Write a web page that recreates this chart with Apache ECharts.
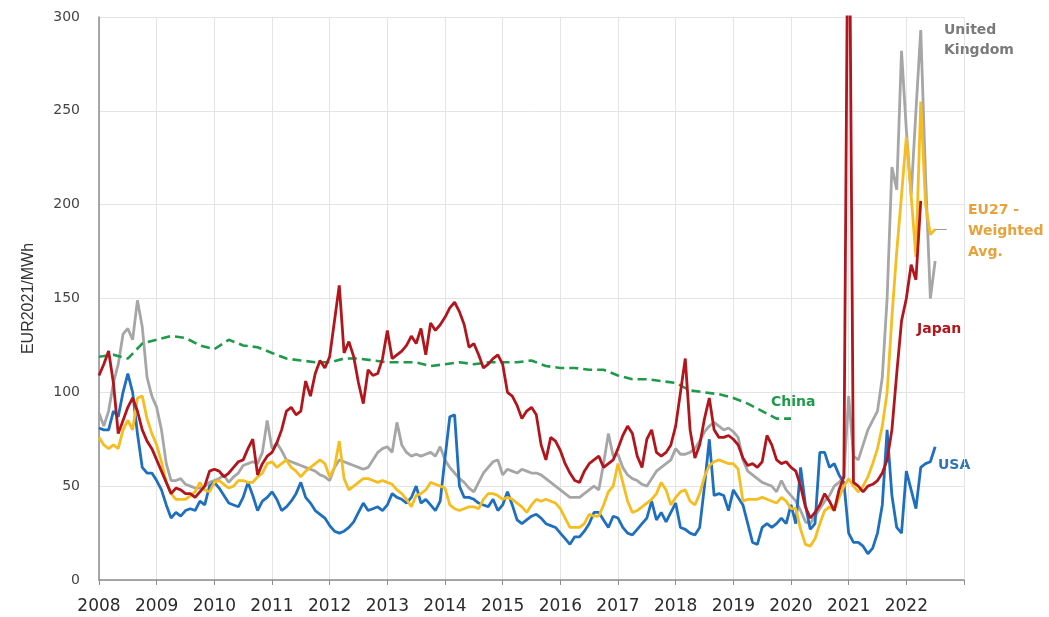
<!DOCTYPE html>
<html>
<head>
<meta charset="utf-8">
<title>Electricity prices EUR2021/MWh</title>
<script src="https://cdn.jsdelivr.net/npm/echarts@6/dist/echarts.min.js"></script>
<style>
  html, body { margin: 0; padding: 0; background: #fff; }
  #chart { width: 1049px; height: 617px; }
</style>
</head>
<body>
<div id="chart"></div>
<script>
// monthly values from Jan 2008, EUR2021/MWh
var startYear = 2008;

var japan = [
  109,115,122,105,78,85,92,97,90,80,74,70,
  64,58,52,46,49,48,46,46,44,47,50,58,
  59,58,55,57,60,63,64,70,75,56,62,66,
  68,73,80,90,92,88,90,106,98,110,117,113,
  119,138,157,121,127,119,105,94,112,109,110,118,
  133,118,120,122,125,130,126,134,120,137,133,136,
  140,145,148,143,136,124,126,120,113,115,118,120,
  115,100,98,93,86,90,92,88,72,64,76,74,
  69,62,57,53,52,58,62,64,66,60,62,64,
  70,77,82,78,66,60,75,80,68,66,68,72,
  82,100,118,80,65,72,86,97,80,76,76,77,
  75,72,65,61,62,60,63,77,72,64,62,63,
  60,58,50,39,33,36,40,46,42,37,48,55,
  420,52,50,47,50,51,53,57,64,80,110,138,
  150,168,160,202
];

var usa = [
  81,80,80,90,87,100,110,100,78,60,57,57,
  53,48,40,33,36,34,37,38,37,42,40,50,
  52,49,45,41,40,39,44,52,45,37,42,44,
  47,43,37,39,42,46,52,44,41,37,35,33,
  29,26,25,26,28,31,36,41,37,38,39,37,
  40,46,44,43,41,44,50,41,43,40,37,42,
  65,87,88,50,44,44,43,41,40,39,43,37,
  40,47,40,32,30,32,34,35,33,30,29,28,
  25,22,19,23,23,26,30,36,36,32,28,34,
  33,28,25,24,27,30,33,42,32,36,31,36,
  41,28,27,25,24,28,50,75,45,46,45,37,
  48,44,40,30,20,19,28,30,28,30,33,30,
  40,30,60,40,27,30,68,68,60,62,56,52,
  25,20,20,18,14,17,25,40,80,45,28,25,
  58,48,38,60,62,63,71
];

var uk = [
  89,82,90,105,115,131,134,128,149,135,108,98,
  92,80,62,53,53,54,51,50,49,49,50,52,
  53,54,56,52,55,57,61,62,63,62,68,85,
  70,73,69,64,63,62,61,60,59,58,56,55,
  53,60,64,63,62,61,60,59,60,64,68,70,
  71,68,84,72,68,66,67,66,67,68,66,71,
  64,60,57,54,52,49,47,52,57,60,63,64,
  56,59,58,57,59,58,57,57,56,54,52,50,
  48,46,44,44,44,46,48,50,48,62,78,66,
  67,60,56,54,53,51,50,54,58,60,62,64,
  70,67,67,68,70,74,79,82,84,82,80,81,
  79,76,64,58,56,54,52,51,50,47,53,48,
  45,42,37,31,30,34,38,42,45,50,52,55,
  98,66,64,72,80,85,90,108,150,220,208,282,
  240,205,250,293,215,150,170
];

var eu27 = [
  76,72,70,72,70,80,85,80,97,98,86,78,
  72,63,52,46,43,43,43,45,47,52,48,47,
  52,53,51,49,50,53,53,52,52,55,57,62,
  63,60,62,64,60,58,55,58,60,62,64,62,
  55,60,74,54,48,50,52,54,54,53,52,53,
  52,51,48,46,43,39,45,46,48,52,51,50,
  49,40,38,37,38,39,39,38,43,46,46,45,
  43,44,43,41,39,36,40,43,42,43,42,41,
  38,33,28,28,28,30,35,34,34,40,47,50,
  62,52,42,36,37,39,41,43,46,52,48,40,
  44,47,48,42,40,46,55,61,63,64,63,62,
  62,59,42,43,43,43,44,43,42,41,44,42,
  38,38,27,19,18,22,30,37,39,37,44,50,
  54,50,47,50,55,62,70,82,100,140,175,205,
  236,205,172,255,200,184,187
];

// quarterly values from Q1 2008
var china = [
  119,120,118,126,128,130,129,125,123,128,125,124,
  121,118,117,116,116,118,118,117,116,116,116,114,
  115,116,115,116,116,116,117,114,113,113,112,112,
  109,107,107,106,105,101,100,99,97,94,90,86,86
];

var yearTicks = [2008, 2023];

function monthly(arr) {
  return arr.map(function (v, i) { return [startYear + i / 12, v]; });
}
function quarterly(arr) {
  return arr.map(function (v, i) { return [startYear + i / 4, v]; });
}

var euData = monthly(eu27);
var euLast = euData[euData.length - 1];

var chart = echarts.init(document.getElementById('chart'));

var option = {
  animation: false,
  backgroundColor: '#ffffff',
  grid: { left: 99, right: 85, top: 17, bottom: 37 },
  xAxis: {
    type: 'value',
    min: yearTicks[0],
    max: yearTicks[1],
    interval: 1,
    axisLine: { show: true, lineStyle: { color: '#8c8c8c', width: 1.5 } },
    axisTick: { show: true, length: 5, lineStyle: { color: '#8c8c8c' } },
    axisLabel: {
      margin: 18,
      fontSize: 17,
      fontFamily: 'DejaVu Sans',
      color: '#2b2b2b',
      formatter: function (v) { return v < yearTicks[1] ? String(v) : ''; }
    },
    splitLine: { show: true, lineStyle: { color: '#e4e4e4', width: 1 } }
  },
  yAxis: {
    type: 'value',
    min: 0,
    max: 300,
    interval: 50,
    name: 'EUR2021/MWh',
    nameLocation: 'middle',
    nameGap: 62,
    nameTextStyle: {
      fontSize: 16,
      fontFamily: "'Liberation Sans Narrow', 'Liberation Sans', sans-serif",
      color: '#333'
    },
    axisLine: { show: true, lineStyle: { color: '#8c8c8c', width: 1.5 } },
    axisTick: { show: false },
    axisLabel: { margin: 19, fontSize: 14, fontFamily: 'DejaVu Sans', color: '#444' },
    splitLine: { show: true, lineStyle: { color: '#e4e4e4', width: 1 } }
  },
  series: [
    {
      name: 'United Kingdom', type: 'line', showSymbol: false,
      data: monthly(uk),
      lineStyle: { color: '#a6a6a6', width: 2.8 }, itemStyle: { color: '#a6a6a6' }
    },
    {
      name: 'China', type: 'line', showSymbol: false,
      data: quarterly(china),
      lineStyle: { color: '#1f9a4a', width: 2.6, type: [9, 5] }, itemStyle: { color: '#1f9a4a' }
    },
    {
      name: 'USA', type: 'line', showSymbol: false,
      data: monthly(usa),
      lineStyle: { color: '#1f6fbf', width: 2.8 }, itemStyle: { color: '#1f6fbf' }
    },
    {
      name: 'EU27 - Weighted Avg.', type: 'line', showSymbol: false,
      data: euData,
      lineStyle: { color: '#f5bd1f', width: 2.8 }, itemStyle: { color: '#f5bd1f' },
      markLine: {
        silent: true, symbol: 'none', label: { show: false },
        lineStyle: { color: '#9a9a9a', width: 1, type: 'solid' },
        data: [[{ coord: euLast }, { coord: [euLast[0] + 0.2, euLast[1]] }]]
      }
    },
    {
      name: 'Japan', type: 'line', showSymbol: false,
      data: monthly(japan),
      lineStyle: { color: '#b2161c', width: 2.8 }, itemStyle: { color: '#b2161c' }
    }
  ],
  graphic: [
    { type: 'text', left: 944, top: 20,
      style: { text: 'United\nKingdom', fill: '#7a7a7a', font: 'bold 14px DejaVu Sans', align: 'center', lineHeight: 20, width: 78 } },
    { type: 'text', left: 968, top: 200,
      style: { text: 'EU27 -\nWeighted\nAvg.', fill: '#e9a23b', font: 'bold 14px DejaVu Sans', align: 'center', lineHeight: 21, width: 80 } },
    { type: 'text', left: 917, top: 322,
      style: { text: 'Japan', fill: '#b2161c', font: 'bold 14px DejaVu Sans' } },
    { type: 'text', left: 771, top: 395,
      style: { text: 'China', fill: '#1f9a4a', font: 'bold 14px DejaVu Sans' } },
    { type: 'text', left: 938, top: 458,
      style: { text: 'USA', fill: '#2e75b6', font: 'bold 14px DejaVu Sans' } }
  ]
};

chart.setOption(option);
</script>
</body>
</html>
